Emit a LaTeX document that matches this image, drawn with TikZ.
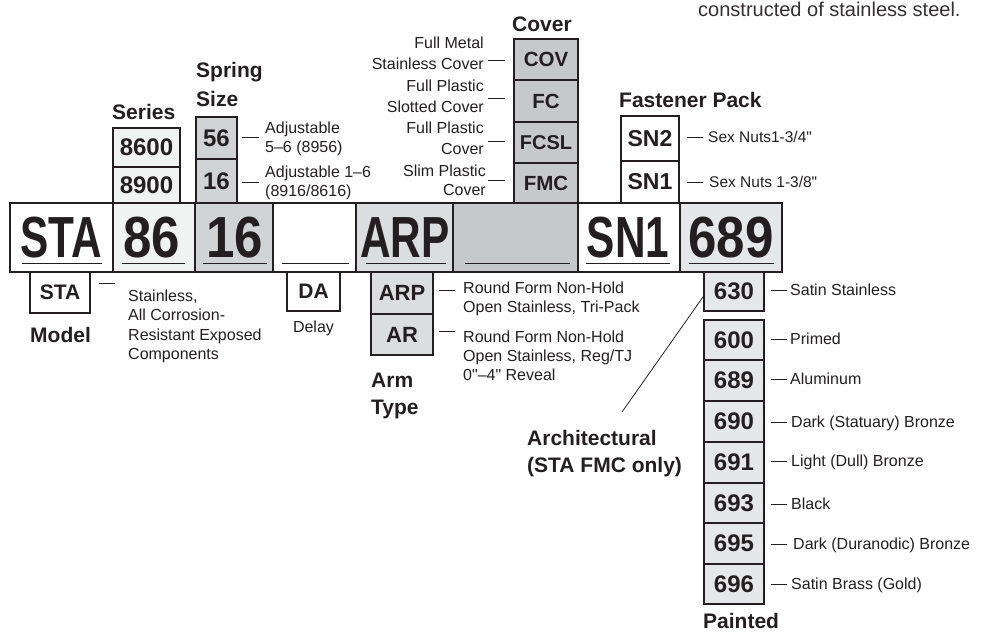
\documentclass[tikz,border=0pt]{standalone}
\usepackage{fontspec}
\setmainfont[Ligatures=TeXOff]{Liberation Sans}
\usepackage{graphicx}
\definecolor{ink}{HTML}{231F20}
\definecolor{cSeries}{HTML}{F1F2F2}
\definecolor{cSpring}{HTML}{D1D3D4}
\definecolor{cArm}{HTML}{DCDDDE}
\definecolor{cCover}{HTML}{C7C8CA}
\definecolor{cFin}{HTML}{E6E7E8}
\newcommand{\ltr}[1]{\scalebox{0.73}[1]{#1}}
\newcommand{\dgt}[1]{\scalebox{0.88}[1]{#1}}
\begin{document}
\begin{tikzpicture}[x=1pt,y=-1pt,
  mainbox/.style={draw=ink, line width=2.2pt, rectangle, inner sep=0pt, outer sep=0pt, minimum height=69pt},
  optbox/.style={draw=ink, line width=2pt, rectangle, inner sep=0pt, outer sep=0pt, text=ink, font=\bfseries\fontsize{24}{24}\selectfont},
  big/.style={anchor=base, inner sep=0pt, text=ink, font=\bfseries\fontsize{58}{58}\selectfont},
  head/.style={anchor=base west, inner sep=0pt, text=ink, align=left, font=\bfseries\fontsize{21}{27}\selectfont},
  lab/.style={anchor=base west, inner sep=0pt, text=ink, align=left, font=\fontsize{16}{19.5}\selectfont},
  labr/.style={anchor=base east, inner sep=0pt, text=ink, align=right, font=\fontsize{16}{21}\selectfont},
  tick/.style={draw=ink, line width=0.9pt},
  uline/.style={draw=ink, line width=1pt}
]
\useasboundingbox (0,0) rectangle (987,633);

% ---------- main row ----------
\node[mainbox, fill=white,   minimum width=103pt] (m1) at (61.5,237.5) {};
\node[mainbox, fill=cSeries, minimum width=82pt]  (m2) at (154,237.5) {};
\node[mainbox, fill=cSpring, minimum width=78pt]  (m3) at (234,237.5) {};
\node[mainbox, fill=white,   minimum width=83pt]  (m4) at (314.5,237.5) {};
\node[mainbox, fill=cArm,    minimum width=97pt]  (m5) at (404.5,237.5) {};
\node[mainbox, fill=cCover,  minimum width=125pt] (m6) at (515.5,237.5) {};
\node[mainbox, fill=white,   minimum width=102pt] (m7) at (629,237.5) {};
\node[mainbox, fill=cFin,    minimum width=102pt] (m8) at (731,237.5) {};

\node[big] (t1) at (61.5,257) {\ltr{STA}};
\node[big] (t2) at (152,257) {\dgt{86}};
\node[big] (t3) at (235,257) {\dgt{16}};
\node[big] (t5) at (405,257) {\ltr{ARP}};
\node[big] (t7) at (628,257) {\ltr{SN1}};
\node[big] (t8) at (731,257) {\dgt{689}};

\foreach \m/\a/\b in {m1/12/11, m2/9/10, m3/8/6, m4/9/7, m5/10/7, m6/12/8, m7/8/10, m8/9/8}{
  \draw[uline] ([xshift=\a pt,yshift=9pt]\m.south west) -- ([xshift=-\b pt,yshift=9pt]\m.south east);
}

% ---------- top text ----------
\node[anchor=base west, inner sep=0pt, text=ink!92, font=\fontsize{20}{24}\selectfont] (note) at (698,16) {constructed of stainless steel.};

% ---------- Series ----------
\node[head] (hSeries) at (112,119) {Series};
\node[optbox, fill=cSeries, minimum width=67pt, minimum height=39pt] (s1) at (146.5,147.5) {8600};
\node[optbox, fill=cSeries, minimum width=67pt, minimum height=36pt] (s2) at (146.5,185) {8900};

% ---------- Spring size ----------
\node[head, font=\bfseries\fontsize{21}{29}\selectfont] (hSpring) at (196,106) {Spring\\Size};
\node[optbox, fill=cSpring, minimum width=41pt, minimum height=42pt] (p1) at (216.5,138) {56};
\node[optbox, fill=cSpring, minimum width=41pt, minimum height=44pt] (p2) at (216.5,181) {16};
\draw[tick] (242,137) -- (259,137);
\draw[tick] (242,182) -- (259,182);
\node[lab] (lp1) at (265,152.5) {Adjustable\\5–6 (8956)};
\node[lab] (lp2) at (265,196.5) {Adjustable 1–6\\(8916/8616)};

% ---------- Cover ----------
\node[head] (hCover) at (512,31) {Cover};
\node[optbox, fill=cCover, minimum width=64pt, minimum height=41pt, font=\bfseries\fontsize{20.5}{20.5}\selectfont] (c1) at (546,59.5) {COV};
\node[optbox, fill=cCover, minimum width=64pt, minimum height=42pt, font=\bfseries\fontsize{20.5}{20.5}\selectfont] (c2) at (546,101) {FC};
\node[optbox, fill=cCover, minimum width=64pt, minimum height=41pt, font=\bfseries\fontsize{20}{20}\selectfont] (c3) at (546,142.5) {FCSL};
\node[optbox, fill=cCover, minimum width=64pt, minimum height=40pt, font=\bfseries\fontsize{20.5}{20.5}\selectfont] (c4) at (546,183) {FMC};
\node[labr] (lc1) at (484,69) {Full Metal\\Stainless Cover};
\node[labr] (lc2) at (484,112) {Full Plastic\\Slotted Cover};
\node[labr] (lc3) at (484,154) {Full Plastic\\Cover};
\node[labr, font=\fontsize{16}{19.5}\selectfont] (lc4) at (486,195.5) {Slim Plastic\\Cover};
\draw[tick] (488,60) -- (505,60);
\draw[tick] (488,98) -- (505,98);
\draw[tick] (488,141) -- (505,141);
\draw[tick] (488,180) -- (505,180);

% ---------- Fastener pack ----------
\node[head] (hFast) at (619,107) {Fastener Pack};
\node[optbox, fill=white, minimum width=58pt, minimum height=45pt, font=\bfseries\fontsize{23}{23}\selectfont] (f1) at (650,138.5) {SN2};
\node[optbox, fill=white, minimum width=58pt, minimum height=42pt, font=\bfseries\fontsize{23}{23}\selectfont] (f2) at (650,182) {SN1};
\draw[tick] (687,137) -- (703,137);
\draw[tick] (687,182) -- (703,182);
\node[lab, font=\fontsize{15.5}{19}\selectfont] (lf1) at (708,142) {Sex Nuts1-3/4"};
\node[lab, font=\fontsize{15.5}{19}\selectfont] (lf2) at (709,187) {Sex Nuts 1-3/8"};

% ---------- Model ----------
\node[optbox, fill=white, minimum width=60pt, minimum height=41pt, font=\bfseries\fontsize{21}{21}\selectfont] (b1) at (60,292.5) {STA};
\draw[tick] (99,283) -- (115,283);
\node[lab] (lb1) at (128,359.5) {Stainless,\\All Corrosion-\\Resistant Exposed\\Components};
\node[head] (hModel) at (30,342) {Model};

% ---------- Delay ----------
\node[optbox, fill=white, minimum width=53pt, minimum height=39pt, font=\bfseries\fontsize{21}{21}\selectfont] (d1) at (313.5,291.5) {DA};
\node[lab, anchor=base] (ld1) at (313.5,332) {Delay};

% ---------- Arm type ----------
\node[optbox, fill=cArm, minimum width=62pt, minimum height=42pt, font=\bfseries\fontsize{22}{22}\selectfont] (a1) at (402,293) {ARP};
\node[optbox, fill=cArm, minimum width=62pt, minimum height=41pt, font=\bfseries\fontsize{22}{22}\selectfont] (a2) at (402,334.5) {AR};
\draw[tick] (439,290) -- (455,290);
\draw[tick] (439,331) -- (455,331);
\node[lab, font=\fontsize{16}{19}\selectfont] (la1) at (463,312) {Round Form Non-Hold\\Open Stainless, Tri-Pack};
\node[lab, font=\fontsize{16}{19}\selectfont] (la2) at (463,380) {Round Form Non-Hold\\Open Stainless, Reg/TJ\\0"–4" Reveal};
\node[head] (hArm) at (371,414) {Arm\\Type};

% ---------- Finish ----------
\node[optbox, fill=cFin, minimum width=60pt, minimum height=39pt] (q0) at (734,291.5) {630};
\node[optbox, fill=cFin, minimum width=60pt, minimum height=40pt] (q1) at (734,340) {600};
\node[optbox, fill=cFin, minimum width=60pt, minimum height=41pt] (q2) at (734,380.5) {689};
\node[optbox, fill=cFin, minimum width=60pt, minimum height=41pt] (q3) at (734,421.5) {690};
\node[optbox, fill=cFin, minimum width=60pt, minimum height=41pt] (q4) at (734,462.5) {691};
\node[optbox, fill=cFin, minimum width=60pt, minimum height=40pt] (q5) at (734,503) {693};
\node[optbox, fill=cFin, minimum width=60pt, minimum height=41pt] (q6) at (734,543.5) {695};
\node[optbox, fill=cFin, minimum width=60pt, minimum height=40pt] (q7) at (734,584) {696};
\foreach \yy/\tx/\nm/\xx in {290/Satin Stainless/lq0/790, 339/Primed/lq1/790, 379/Aluminum/lq2/790, 422/Dark (Statuary) Bronze/lq3/791, 461/Light (Dull) Bronze/lq4/791, 504/Black/lq5/791, 544/Dark (Duranodic) Bronze/lq6/793, 584/Satin Brass (Gold)/lq7/791}{
  \draw[tick] (771,\yy) -- (787,\yy);
  \node[lab] (\nm) at (\xx,\yy+5.5) {\tx};
}
\node[head] (hPaint) at (703,628.5) {Painted};

% ---------- Architectural ----------
\node[head] (hArch) at (527,472) {Architectural\\(STA FMC only)};
\coordinate (archtop) at (622,412);
\draw[draw=ink, line width=0.8pt] ([yshift=-4pt]q0.west) -- (archtop);
\end{tikzpicture}
\end{document}
